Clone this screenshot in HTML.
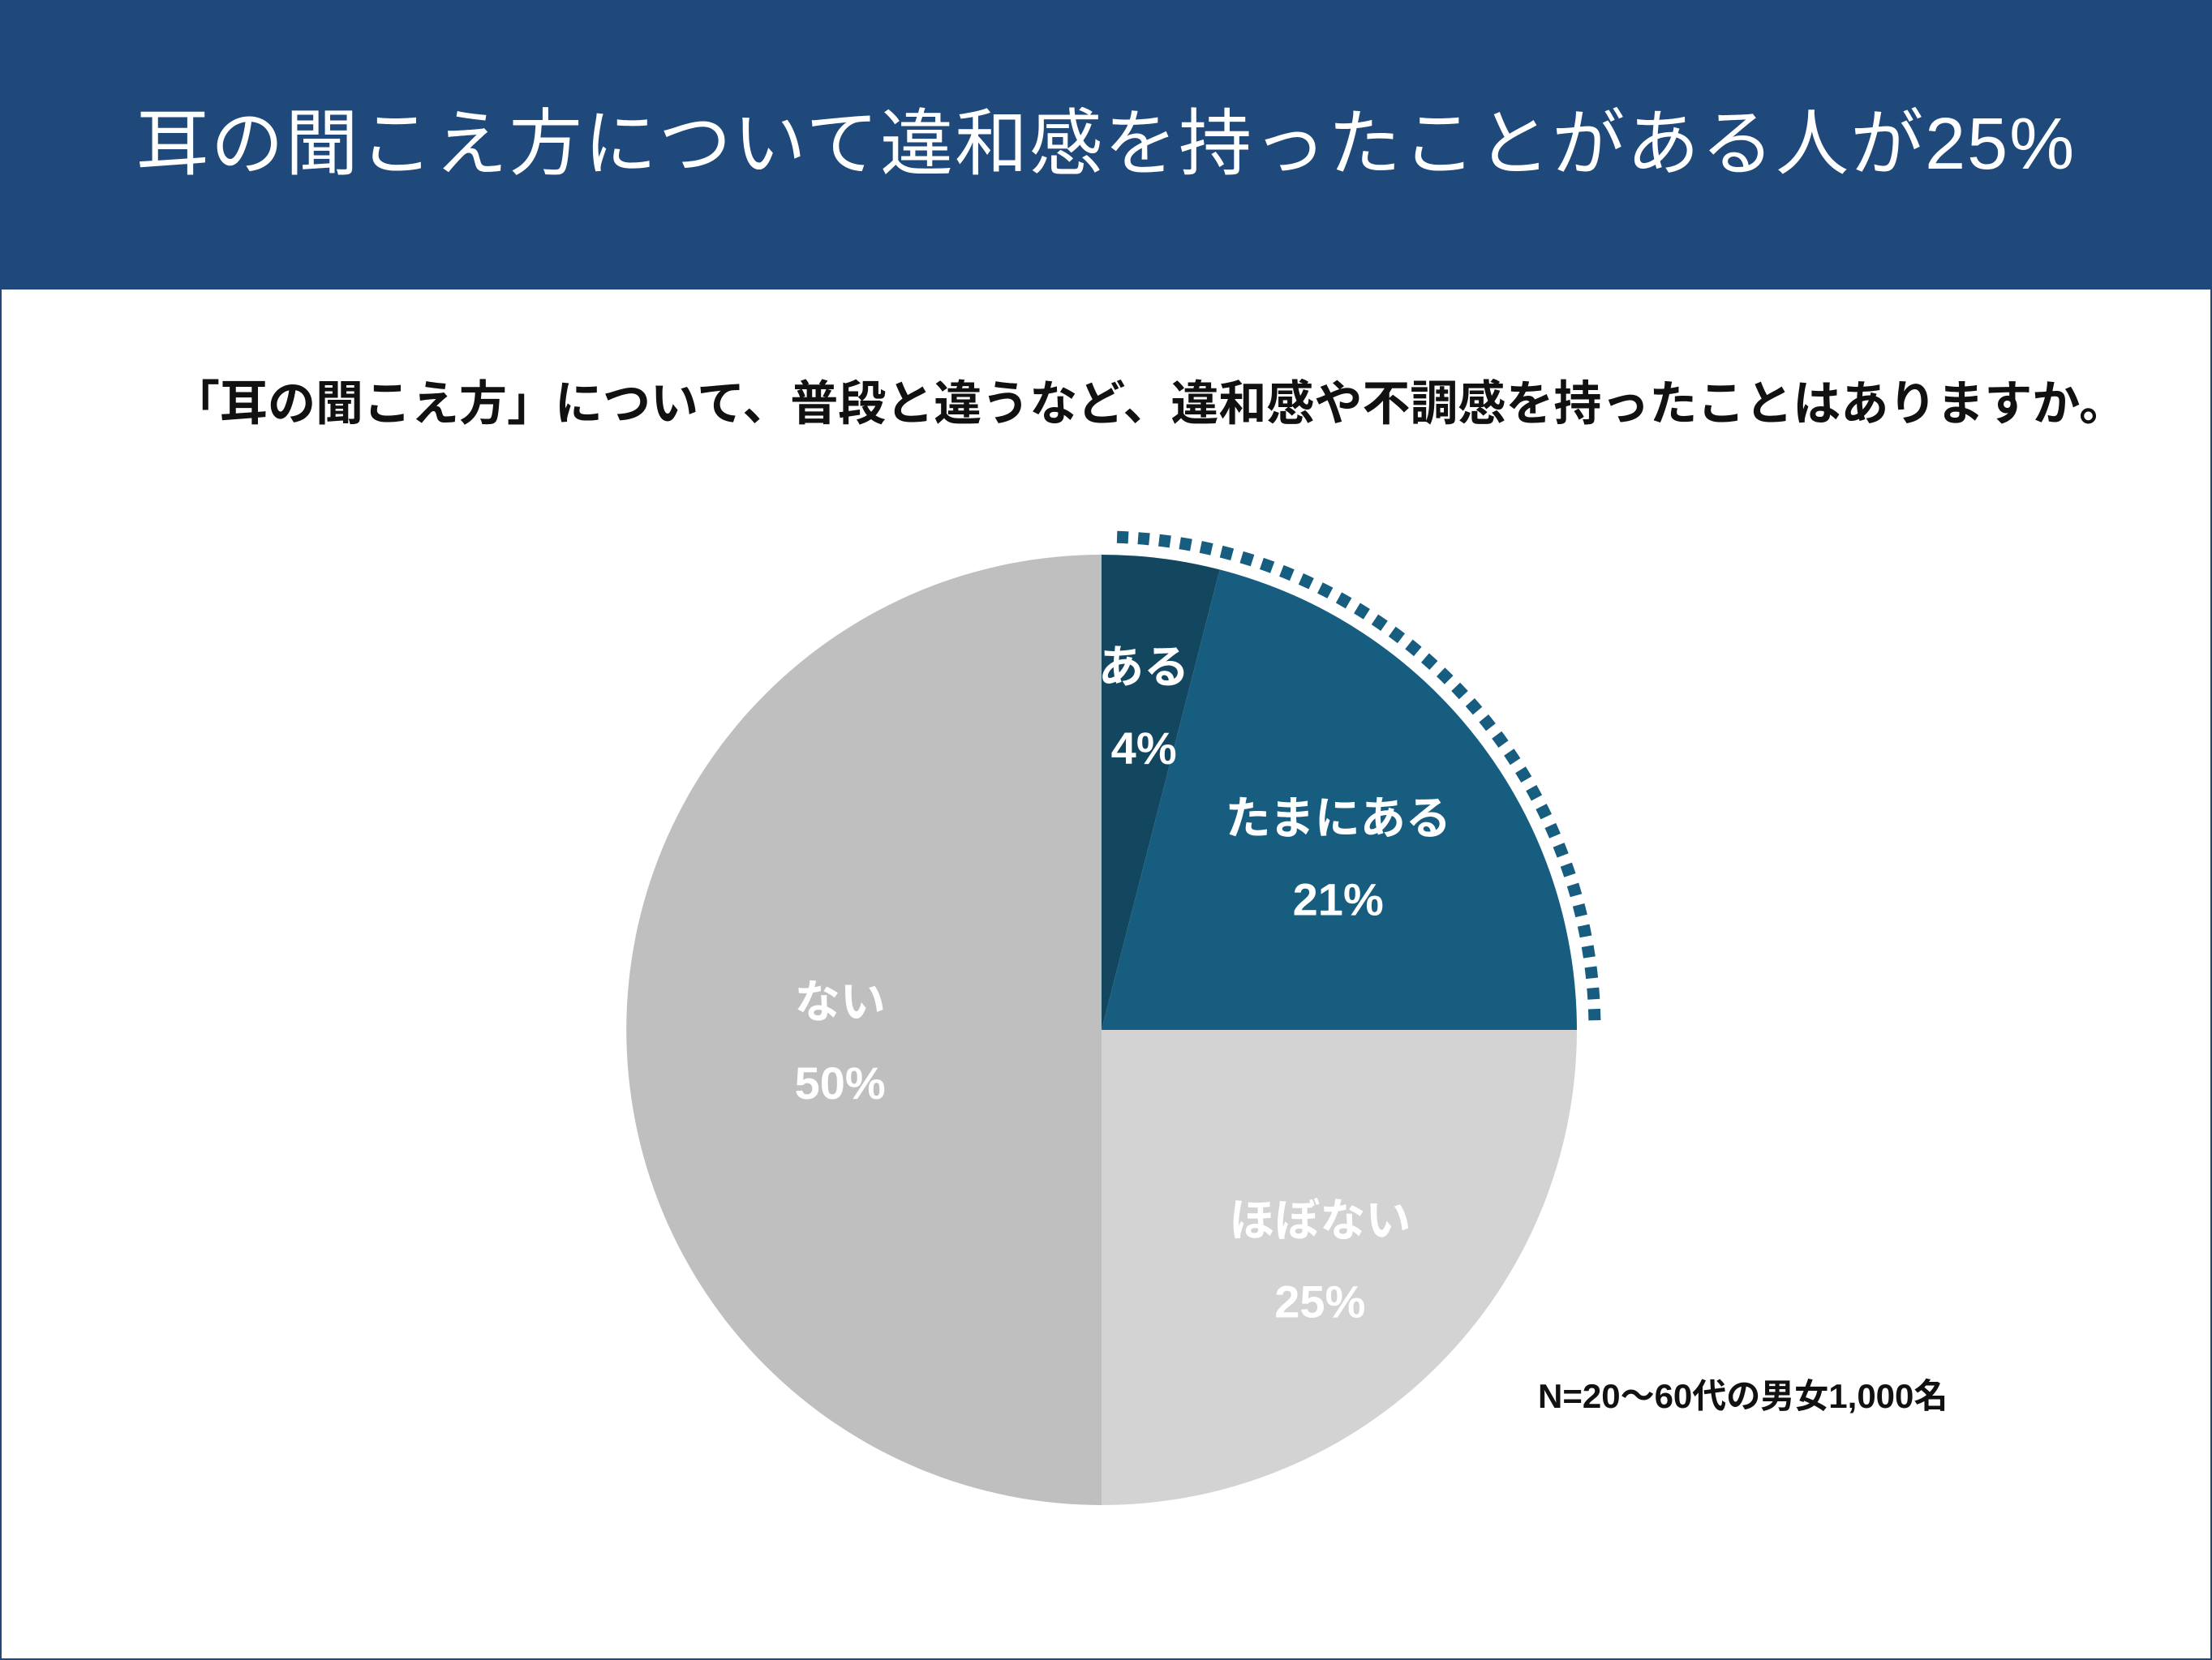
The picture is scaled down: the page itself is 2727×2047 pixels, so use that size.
<!DOCTYPE html>
<html><head><meta charset="utf-8">
<style>
html,body{margin:0;padding:0;background:#fff;}
#wrap{position:relative;width:2727px;height:2047px;overflow:hidden;background:#fff;font-family:"Liberation Sans","Noto Sans CJK JP",sans-serif;}
#frame{position:absolute;left:0;top:0;width:2723px;height:2043px;border:2px solid #1f497a;}
#header{position:absolute;left:0;top:0;width:2727px;height:357px;background:#1f497a;}
#title{position:absolute;left:0;top:0;width:2727px;height:357px;line-height:357px;text-align:center;color:#fff;font-size:90px;letter-spacing:2px;}
#subtitle{position:absolute;left:212px;top:450px;font-size:59px;font-weight:bold;color:#111;white-space:nowrap;}
#note{position:absolute;left:1896px;top:1688px;font-size:42px;font-weight:bold;color:#111;white-space:nowrap;}
svg{position:absolute;left:0;top:0;}
</style></head>
<body>
<div id="wrap">
<div id="header"></div>
<div id="title">耳の聞こえ方について違和感を持ったことがある人が25%</div>
<div id="subtitle">「耳の聞こえ方」について、普段と違うなど、違和感や不調感を持ったことはありますか。</div>
<svg id="pie" width="2727" height="2047"></svg>
<div id="note">N=20〜60代の男女1,000名</div>
<div id="frame"></div>
</div>
<script>
const categories = ["ある","たまにある","ほぼない","ない"];
const values = [4,21,25,50];
const valueLabels = ["4%","21%","25%","50%"];
const highlightCount = 2;
const colors = ["#134760","#175d80","#d3d3d3","#bfbfbf"];
const labelRadius = [0.71,0.63,0.65,0.55];

const NS="http://www.w3.org/2000/svg";
const svg=document.getElementById('pie');
const cx=1358, cy=1270, r=586;
const total=values.reduce((a,b)=>a+b,0);
function pt(frac,rad){const a=frac*2*Math.PI-Math.PI/2;return [cx+rad*Math.cos(a),cy+rad*Math.sin(a)];}
let acc=0;
values.forEach((v,i)=>{
  const f0=acc/total, f1=(acc+v)/total; acc+=v;
  const [x0,y0]=pt(f0,r),[x1,y1]=pt(f1,r);
  const large=(f1-f0)>0.5?1:0;
  const p=document.createElementNS(NS,'path');
  p.setAttribute('d',`M${cx},${cy} L${x0},${y0} A${r},${r} 0 ${large} 1 ${x1},${y1} Z`);
  p.setAttribute('fill',colors[i]);
  
  
  svg.appendChild(p);
});
acc=0;
values.forEach((v,i)=>{
  const f0=acc/total, f1=(acc+v)/total; acc+=v;
  const mid=(f0+f1)/2;
  const [lx,ly]=pt(mid,r*labelRadius[i]);
  const t1=document.createElementNS(NS,'text');
  t1.setAttribute('x',lx);t1.setAttribute('y',ly-15);
  t1.setAttribute('text-anchor','middle');t1.setAttribute('fill','#fff');
  t1.setAttribute('font-size','56');t1.setAttribute('font-weight','bold');
  t1.setAttribute('font-family','"Liberation Sans","Noto Sans CJK JP",sans-serif');
  t1.textContent=categories[i];
  
  
  svg.appendChild(t1);
  const t2=document.createElementNS(NS,'text');
  t2.setAttribute('x',lx);t2.setAttribute('y',ly+85);
  t2.setAttribute('text-anchor','middle');t2.setAttribute('fill','#fff');
  t2.setAttribute('font-size','56');t2.setAttribute('font-weight','bold');
  t2.setAttribute('font-family','"Liberation Sans","Noto Sans CJK JP",sans-serif');
  t2.textContent=valueLabels[i];
  
  
  svg.appendChild(t2);
});
let hv=0;for(let i=0;i<highlightCount;i++)hv+=values[i];
const ra=r+22;
const [ax0,ay0]=pt(0.005,ra),[ax1,ay1]=pt(hv/total,ra);
const arc=document.createElementNS(NS,'path');
arc.setAttribute('d',`M${ax0},${ay0} A${ra},${ra} 0 ${hv/total>0.5?1:0} 1 ${ax1},${ay1}`);
arc.setAttribute('fill','none');arc.setAttribute('stroke','#175d80');
arc.setAttribute('stroke-width','15');arc.setAttribute('stroke-dasharray','14 12');


svg.appendChild(arc);
</script>
</body></html>
